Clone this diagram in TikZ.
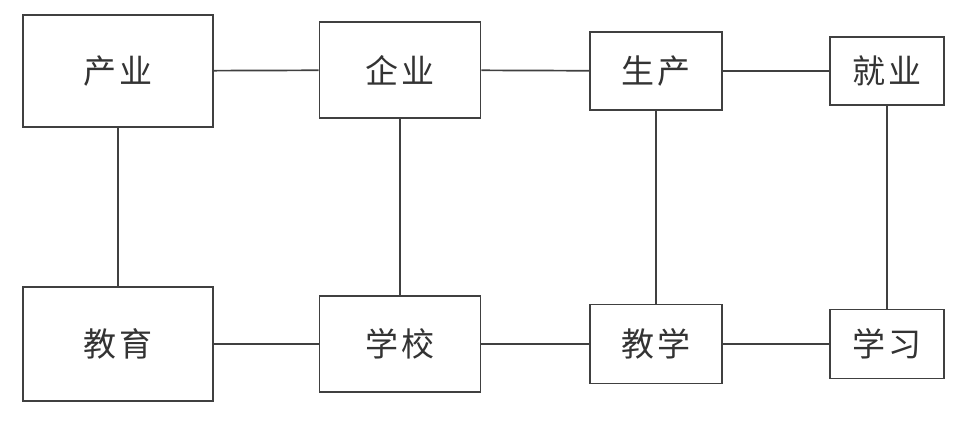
\documentclass[tikz,border=0pt]{standalone}
\usepackage{fontspec}
\newfontfamily\cjk[LetterSpace=10]{Noto Sans CJK SC}
\usepackage{xcolor}
\usetikzlibrary{positioning}

\begin{document}
\begin{tikzpicture}[x=1pt, y=-1pt,
      box/.style={draw=black!75, line width=1.7pt, fill=white, inner sep=0pt,
        font=\cjk\fontsize{33}{33}\selectfont, text=black!80},
      link/.style={draw=black!75, line width=1.7pt}]
    \useasboundingbox (0,0) rectangle (960,420);
    % upper row: industry side
    \node[box, minimum width=190pt, minimum height=112pt] (chanye)    at (118,71)  {产业};
    \node[box, minimum width=161pt, minimum height=96pt]  (qiye)      at (400,70)  {企业};
    \node[box, minimum width=132pt, minimum height=78pt]  (shengchan) at (656,71)  {生产};
    \node[box, minimum width=114pt, minimum height=68pt]  (jiuye)     at (887,71)  {就业};
    % lower row: education side
    \node[box, minimum width=190pt, minimum height=114pt] (jiaoyu)    at (118,344) {教育};
    \node[box, minimum width=161pt, minimum height=96pt]  (xuexiao)   at (400,344) {学校};
    \node[box, minimum width=132pt, minimum height=79pt]  (jiaoxue)   at (656,344) {教学};
    \node[box, minimum width=114pt, minimum height=69pt]  (xuexi)     at (887,344) {学习};
    % horizontal links
    \draw[link] (chanye) -- (qiye);
    \draw[link] (qiye) -- (shengchan);
    \draw[link] (shengchan) -- (jiuye);
    \draw[link] (jiaoyu) -- (xuexiao);
    \draw[link] (xuexiao) -- (jiaoxue);
    \draw[link] (jiaoxue) -- (xuexi);
    % vertical links
    \foreach \a/\b in {chanye/jiaoyu, qiye/xuexiao, shengchan/jiaoxue, jiuye/xuexi}
      \draw[link] (\a) -- (\b);
  \end{tikzpicture}
\end{document}
